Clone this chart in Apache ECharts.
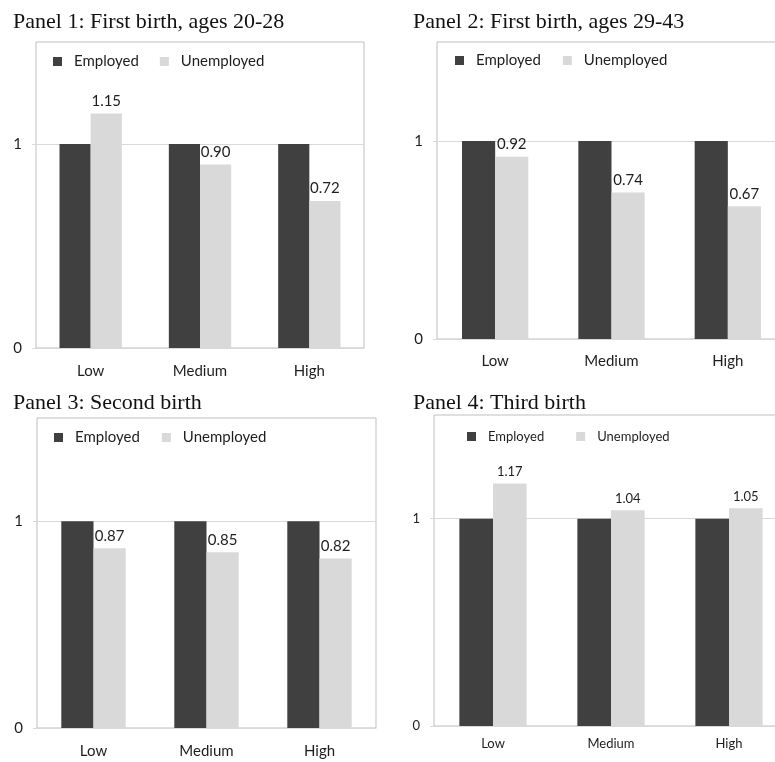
<!DOCTYPE html>
<html><head><meta charset="utf-8">
<script src="https://cdn.jsdelivr.net/npm/echarts@6/dist/echarts.min.js"></script>
<style>html,body{margin:0;padding:0;background:#fff}#c{width:775px;height:762px}</style>
</head><body><div id="c"></div>
<script>
// ---- data ----
const categories = ['Low', 'Medium', 'High'];
const seriesNames = ['Employed', 'Unemployed'];
const panelTitles = [
  'Panel 1: First birth, ages 20-28',
  'Panel 2: First birth, ages 29-43',
  'Panel 3: Second birth',
  'Panel 4: Third birth'
];
const employed1 = [1, 1, 1];
const unemployed1 = [1.15, 0.90, 0.72];
const employed2 = [1, 1, 1];
const unemployed2 = [0.92, 0.74, 0.67];
const employed3 = [1, 1, 1];
const unemployed3 = [0.87, 0.85, 0.82];
const employed4 = [1, 1, 1];
const unemployed4 = [1.17, 1.04, 1.05];
const yTickLabels = [0, 1];
const yMax = 1.5;

// ---- layout / style ----
const SANS = 'Lato';
const SERIF = 'Liberation Serif';
const DARK = '#404040';
const LIGHT = '#d9d9d9';
const panels = [
  { grid: {left: 36, top: 42, width: 328, height: 306}, title: {left: 13, top: 11}, legend: {left: 53, top: 54}, legendGap: 21, fs: 15, xMargin: 16, data: [employed1, unemployed1] },
  { grid: {left: 437, top: 42, width: 349, height: 297}, title: {left: 413, top: 11}, legend: {left: 455, top: 53}, legendGap: 22, fs: 15, xMargin: 15, data: [employed2, unemployed2] },
  { grid: {left: 37, top: 418, width: 339, height: 310}, title: {left: 13, top: 392}, legend: {left: 54, top: 430}, legendGap: 22, fs: 15, xMargin: 16, data: [employed3, unemployed3] },
  { grid: {left: 434, top: 415, width: 354, height: 311}, title: {left: 413, top: 392}, legend: {left: 467, top: 430}, legendGap: 32, fs: 13, xMargin: 11, data: [employed4, unemployed4] }
];

const option = {
  animation: false,
  backgroundColor: '#fff',
  title: panels.map((p, i) => ({
    text: panelTitles[i], left: p.title.left, top: p.title.top, padding: 0,
    textStyle: { fontFamily: SERIF, fontSize: 22, fontWeight: 'normal', color: '#111' }
  })),
  legend: panels.map((p, i) => ({
    data: seriesNames, left: p.legend.left, top: p.legend.top, padding: 0,
    icon: 'rect', itemWidth: 9, itemHeight: 9, itemGap: p.legendGap,
    selectedMode: false,
    textStyle: { fontFamily: SANS, fontSize: p.fs, color: '#1e1e1e', padding: [0, 0, 0, 7] }
  })),
  grid: panels.map(p => ({
    left: p.grid.left, top: p.grid.top, width: p.grid.width, height: p.grid.height,
    show: true, borderColor: '#bfbfbf', borderWidth: 1, backgroundColor: 'transparent',
    containLabel: false, outerBoundsMode: 'none'
  })),
  xAxis: panels.map((p, i) => ({
    type: 'category', gridIndex: i, data: categories,
    axisLine: { show: true, lineStyle: { color: LIGHT } },
    axisTick: { show: false },
    axisLabel: { fontFamily: SANS, fontSize: p.fs, color: '#1e1e1e', margin: p.xMargin }
  })),
  yAxis: panels.map((p, i) => ({
    type: 'value', gridIndex: i, min: 0, max: yMax, interval: 1,
    axisLine: { show: false },
    axisTick: { show: true, length: 4, lineStyle: { color: LIGHT }, customValues: yTickLabels },
    axisLabel: { fontFamily: SANS, fontSize: p.fs, color: '#1e1e1e', margin: 14, customValues: yTickLabels,
      formatter: v => (yTickLabels.indexOf(v) >= 0 ? String(v) : '') },
    splitLine: { show: true, lineStyle: { color: LIGHT } }
  })),
  series: []
};

panels.forEach((p, i) => {
  option.series.push({
    name: seriesNames[0], type: 'bar', xAxisIndex: i, yAxisIndex: i, data: p.data[0],
    itemStyle: { color: DARK }, barGap: '0%', barCategoryGap: '43%'
  });
  option.series.push({
    name: seriesNames[1], type: 'bar', xAxisIndex: i, yAxisIndex: i, data: p.data[1],
    itemStyle: { color: LIGHT }, barGap: '0%', barCategoryGap: '43%',
    label: { show: true, position: 'top', distance: 5, fontFamily: SANS, fontSize: p.fs, color: '#1e1e1e',
      formatter: d => d.value.toFixed(2) }
  });
});

const chart = echarts.init(document.getElementById('c'), null, { renderer: 'canvas' });
chart.setOption(option);
</script>
</body></html>
